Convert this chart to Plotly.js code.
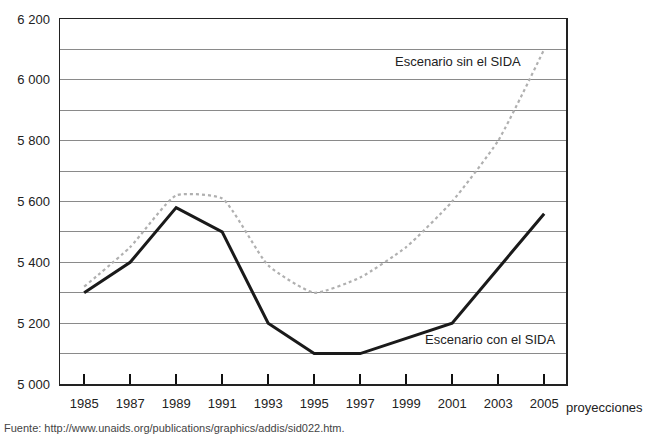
<!DOCTYPE html>
<html>
<head>
<meta charset="utf-8">
<script src="https://cdn.plot.ly/plotly-3.0.1.min.js"></script>
<style>html,body{margin:0;padding:0;background:#fff;}#chart{width:646px;height:435px;}</style>
</head>
<body>
<div id="chart"></div>
<script>
const years = [1985, 1987, 1989, 1991, 1993, 1995, 1997, 1999, 2001, 2003, 2005];
const conSida = [5300, 5400, 5580, 5500, 5200, 5100, 5100, 5150, 5200, 5380, 5560];
const sinSida = [5320, 5450, 5620, 5610, 5390, 5300, 5350, 5450, 5600, 5800, 6100];
const yTicks = [5000, 5200, 5400, 5600, 5800, 6000, 6200];
const labelSin = "Escenario sin el SIDA";
const labelCon = "Escenario con el SIDA";
const xNote = "proyecciones";
const source = "Fuente: http://www.unaids.org/publications/graphics/addis/sid022.htm.";

const traces = [
  {x: years, y: sinSida, mode: 'lines', line: {color: '#b0b0b0', width: 2.2, dash: 'dot', shape: 'spline', smoothing: 0.5}, hoverinfo: 'skip'},
  {x: years, y: conSida, mode: 'lines', line: {color: '#1a1a1a', width: 3}, hoverinfo: 'skip'}
];

const layout = {
  width: 646, height: 435,
  margin: {l: 60, r: 80, t: 19, b: 51},
  paper_bgcolor: '#fff', plot_bgcolor: '#fff',
  showlegend: false,
  separators: ', ',
  font: {family: 'Liberation Sans, Arial, sans-serif', size: 13, color: '#222'},
  xaxis: {
    range: [1983.95, 2005.95], tickvals: years, ticktext: years.map(String),
    ticks: 'inside', ticklen: 10, tickwidth: 1.5, tickcolor: '#111',
    showgrid: false, zeroline: false,
    showline: true, linecolor: '#222', linewidth: 1.5, mirror: true,
    tickfont: {size: 13, color: '#222'}, ticklabelstandoff: 7
  },
  yaxis: {
    range: [5000, 6200], tickvals: yTicks, tickformat: ',d',
    ticks: '', showgrid: true, gridcolor: '#8a8a8a', gridwidth: 1,
    minor: {dtick: 100, tick0: 5000, showgrid: true, gridcolor: '#8a8a8a', gridwidth: 1},
    zeroline: false, showline: true, linecolor: '#222', linewidth: 1.5, mirror: true,
    tickfont: {size: 13, color: '#222'}, ticklabelstandoff: 6
  },
  annotations: [
    {x: 2004.1, y: 6060, xref: 'x', yref: 'y', text: labelSin, showarrow: false, xanchor: 'right', yanchor: 'middle', font: {size: 13, color: '#222'}},
    {x: 2005.55, y: 5145, xref: 'x', yref: 'y', text: labelCon, showarrow: false, xanchor: 'right', yanchor: 'middle', font: {size: 13, color: '#222'}},
    {x: 1, y: 0, xref: 'paper', yref: 'paper', xshift: -2, yshift: -23, text: xNote, showarrow: false, xanchor: 'left', yanchor: 'middle', font: {size: 13, color: '#222'}},
    {x: 0, y: 0, xref: 'paper', yref: 'paper', xshift: -58, yshift: -44, text: source, showarrow: false, xanchor: 'left', yanchor: 'middle', font: {size: 11, color: '#444'}}
  ]
};

Plotly.newPlot('chart', traces, layout, {displayModeBar: false, staticPlot: true});
</script>
</body>
</html>
